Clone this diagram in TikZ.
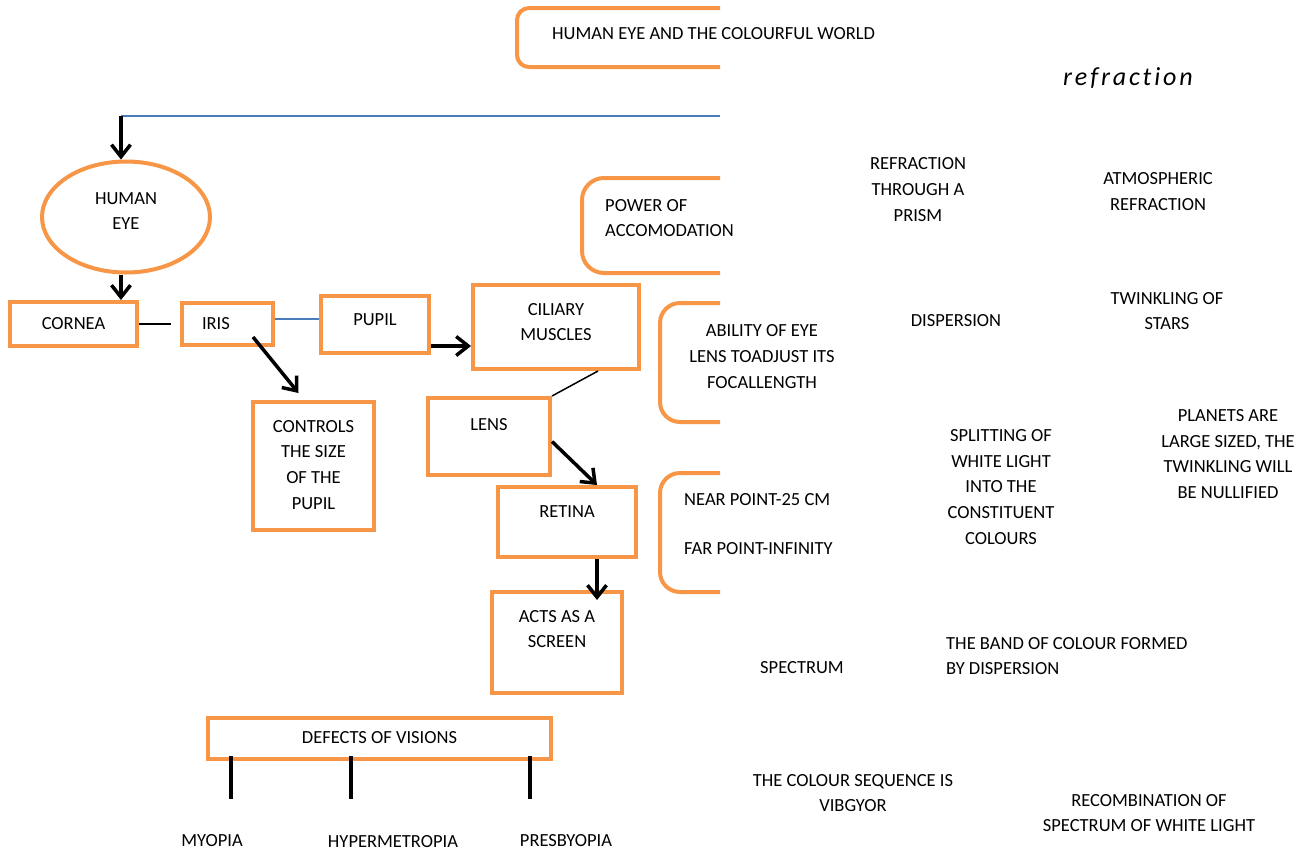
\documentclass[tikz,border=0pt]{standalone}
\usepackage{fontspec}
\setmainfont{Carlito}
\usetikzlibrary{arrows.meta,positioning,shapes.geometric}

\definecolor{eyeorange}{HTML}{F79646}
\definecolor{eyeblue}{HTML}{4A7EBB}

\begin{document}
\begin{tikzpicture}[x=1pt, y=-1pt,
  font=\fontsize{18.5}{25.7}\selectfont,
  box/.style={draw=eyeorange, line width=4pt, align=flush center, inner sep=0pt},
  tbox/.style={box, anchor=north, inner ysep=18pt, text height=12pt},
  rbox/.style={draw=eyeorange, line width=4pt, rounded corners=#1},
  note/.style={align=center, inner sep=0pt},
  arr/.style={-{Straight Barb[length=12pt,width=19pt]}, line width=3.5pt},
  link/.style={line width=2pt},
  blink/.style={eyeblue, line width=1.5pt},
  stem/.style={line width=3.5pt}
]
\useasboundingbox (0,0) rectangle (1313,855);

% title and the clipped frames
\draw[rbox=12pt] (720,8) -- (517,8) -- (517,67) -- (720,67);
\node[anchor=base west, inner sep=0pt] (title) at (552,39) {HUMAN EYE AND THE COLOURFUL WORLD};
\node[anchor=base west, inner sep=0pt] (refraction) at (1063,85)
  {\fontsize{26}{30}\selectfont\itshape\addfontfeature{LetterSpace=11,Ligatures=NoCommon}refraction};

\coordinate (topleft) at (121,116);
\coordinate (topright) at (720,116);

% eye chain
\node[box, ellipse, minimum width=168pt, minimum height=111pt, text width=80pt,
  text height=12pt, text depth=37.7pt] (eye) at (126,217) {HUMAN\\EYE};
\node[box, minimum width=127pt, minimum height=44pt] (cornea) at (73.5,324) {CORNEA};
\node[box, minimum height=42pt, text width=51pt, inner xsep=20pt, align=flush left,
  right=41pt of cornea] (iris) {IRIS};
\node[tbox, text width=108pt, text depth=9pt, right=44pt of iris] (pupil) {PUPIL};
\node[tbox, text width=166pt, text depth=36pt] (ciliary) at (556,283) {CILIARY\\MUSCLES};
\node[tbox, text width=121pt, text depth=80pt] (controls) at (313.5,400) {CONTROLS\\THE SIZE\\OF THE\\PUPIL};
\node[tbox, text width=122pt, text depth=25pt, inner ysep=20pt] (lens) at (489,396) {LENS};
\node[tbox, text width=138pt, text depth=22pt] (retina) at (567,485) {RETINA};
\node[tbox, text width=130pt, text depth=53pt] (acts) at (557,590) {ACTS AS A\\SCREEN};

\draw[blink] (topright) -- (topleft);
\draw[arr] (topleft) -- (topleft |- eye.north);
\draw[arr] (eye.south -| topleft) -- (topleft |- cornea.north);
\draw[link, shorten >=9pt] (cornea.east) -- (iris.west |- cornea.east);
\draw[blink] ([yshift=5pt]iris.east) -- ([yshift=5pt]iris.east -| pupil.west);
\draw[arr] ([yshift=-22pt]pupil.east) -- ([yshift=-22pt]pupil.east -| ciliary.west);
\draw[arr] ([xshift=-22pt,yshift=10pt]iris.south east) -- ([xshift=-15pt,yshift=7pt]controls.north);
\draw[link, line width=1.5pt] ([xshift=42pt]ciliary.south) -- (lens.north east);
\draw[arr] ([yshift=-5pt]lens.east) -- ([xshift=30pt]retina.north);
\draw[arr] ([xshift=30pt]retina.south) -- ([xshift=40pt,yshift=-10pt]acts.north);

% accommodation frames
\draw[rbox=22pt] (720,178) -- (582,178) -- (582,273) -- (720,273);
\node[note, anchor=west, align=left] (power) at (605,218) {POWER OF\\ACCOMODATION};
\draw[rbox=20pt] (720,303) -- (660,303) -- (660,422) -- (720,422);
\node[note] (ability) at (762,356.5) {ABILITY OF EYE\\LENS TOADJUST ITS\\FOCALLENGTH};
\draw[rbox=20pt] (720,473) -- (660,473) -- (660,592) -- (720,592);
\node[note, anchor=west, align=left] (points) at (684,524.5) {NEAR POINT-25 CM\\[23.3pt]FAR POINT-INFINITY};

% defects
\node[box, minimum width=343pt, minimum height=41pt] (defects) at (379.5,738) {DEFECTS OF VISIONS};
\foreach \dx in {-148.5,-28.5,150.5}
  \draw[stem] ([xshift=\dx pt,yshift=5pt]defects.south) -- ([xshift=\dx pt,yshift=-38pt]defects.south);
\node[note] (myopia) at (212,841) {MYOPIA};
\node[note] (hyper) at (393,842) {HYPERMETROPIA};
\node[note] (presby) at (566,841) {PRESBYOPIA};

% refraction side
\node[note] (prism) at (918,189.5) {REFRACTION\\THROUGH A\\PRISM};
\node[note] (atmos) at (1158,191.5) {ATMOSPHERIC\\REFRACTION};
\node[note] (dispersion) at (956,321) {DISPERSION};
\node[note] (twinkle) at (1167,311) {TWINKLING OF\\STARS};
\node[note] (splitting) at (1001,487) {SPLITTING OF\\WHITE LIGHT\\INTO THE\\CONSTITUENT\\COLOURS};
\node[note] (planets) at (1228,454) {PLANETS ARE\\LARGE SIZED, THE\\TWINKLING WILL\\BE NULLIFIED};
\node[note] (spectrum) at (802,668) {SPECTRUM};
\node[note, anchor=west, align=left] (band) at (946,656) {THE BAND OF COLOUR FORMED\\BY DISPERSION};
\node[note] (vibgyor) at (853,793) {THE COLOUR SEQUENCE IS\\VIBGYOR};
\node[note] (recomb) at (1149,813) {RECOMBINATION OF\\SPECTRUM OF WHITE LIGHT};

\end{tikzpicture}
\end{document}
